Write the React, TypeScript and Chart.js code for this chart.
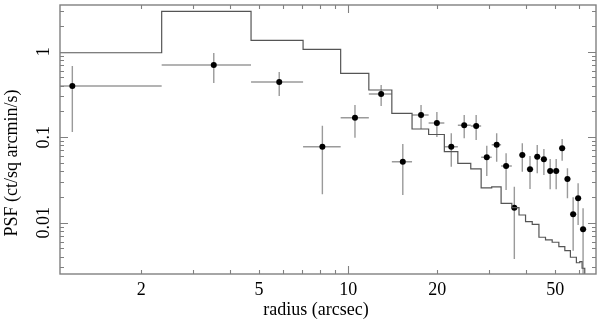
import React, { useEffect, useRef } from "react";
import { Chart, registerables } from "chart.js";

Chart.register(...registerables);

// Model PSF (step histogram): bin start radius (arcsec) and value
const modelEdges = [1.0, 2.344, 4.697, 7.04, 9.43, 11.74, 14.04, 16.43, 18.69, 21.12, 23.46, 25.94, 28.12, 30.53, 32.84, 35.7, 37.75, 39.72, 41.84, 44.08, 46.39, 48.86, 51.46, 53.91, 56.3, 58.98, 60.56, 61.65, 62.95, 70];
const modelValues = [0.973, 2.97, 1.36, 1.067, 0.559, 0.3565, 0.1904, 0.1247, 0.1075, 0.0677, 0.0495, 0.0425, 0.0255, 0.0262, 0.01686, 0.01497, 0.0123, 0.01027, 0.00958, 0.00675, 0.00628, 0.0059, 0.00524, 0.0047, 0.00394, 0.0034, 0.0035, 0.00293, 0.001, 0.001];

// Observed profile
const dataX = [1.17, 3.515, 5.848, 8.18, 10.54, 12.92, 15.29, 17.62, 19.93, 22.29, 24.65, 27.05, 29.38, 31.73, 34.14, 36.4, 38.73, 41.12, 43.5, 45.81, 48.1, 50.4, 52.8, 55.02, 57.51, 59.78, 62.13];
const dataY = [0.397, 0.699, 0.442, 0.0774, 0.169, 0.32, 0.0517, 0.1818, 0.1466, 0.0774, 0.1378, 0.1352, 0.0582, 0.0817, 0.046, 0.01497, 0.0619, 0.0421, 0.0591, 0.0551, 0.0402, 0.0402, 0.0742, 0.0324, 0.01254, 0.0193, 0.00837];
const dataYHigh = [0.68, 0.966, 0.579, 0.1363, 0.238, 0.408, 0.0833, 0.238, 0.197, 0.111, 0.1818, 0.1818, 0.0796, 0.111, 0.0648, 0.02637, 0.0849, 0.0603, 0.0811, 0.0728, 0.0556, 0.0556, 0.0953, 0.0433, 0.0198, 0.0289, 0.01474];
const dataYLow = [0.115, 0.43, 0.303, 0.0215, 0.0987, 0.2317, 0.0211, 0.1247, 0.1005, 0.0452, 0.0971, 0.0928, 0.0352, 0.0517, 0.0241, 0.00376, 0.0395, 0.0248, 0.0378, 0.0361, 0.0246, 0.0246, 0.0531, 0.0193, 0.0047, 0.0094, 0.001];
const dataXLow = [1.0, 2.344, 4.697, 7.04, 9.43, 11.74, 14.04, 16.43, 18.69, 21.12, 23.46, 25.94, 28.12, 30.53, 32.84, 35.5, 37.8, 40.1, 42.4, 44.7, 46.9, 49.2, 51.5, 53.7, 56.1, 58.3, 60.6];
const dataXHigh = [2.344, 4.697, 7.04, 9.43, 11.74, 14.04, 16.43, 18.69, 21.12, 23.46, 25.94, 28.12, 30.53, 32.84, 35.7, 37.3, 39.7, 42.2, 44.6, 47.0, 49.3, 51.7, 54.1, 56.4, 59.0, 61.3, 63.7];

const xTickLabels = ["2", "5", "10", "20", "50"];
const yTickLabels = ["0.01", "0.1", "1"];
const xTitle = "radius (arcsec)";
const yTitle = "PSF (ct/sq arcmin/s)";

const X_MIN = 1.063;
const X_MAX = 68.7;
const Y_MIN = 0.00251;
const Y_MAX = 3.52;

const FONT = "18px 'Liberation Serif', 'DejaVu Serif', serif";

const decorPlugin = {
  id: "decor",
  beforeDatasetsDraw(chart: any) {
    const { ctx, chartArea, scales } = chart;
    const xs = scales.x;
    const ys = scales.y;
    ctx.save();
    ctx.beginPath();
    ctx.rect(chartArea.left, chartArea.top, chartArea.right - chartArea.left, chartArea.bottom - chartArea.top);
    ctx.clip();
    ctx.strokeStyle = "#9a9a9a";
    ctx.lineWidth = 1.4;
    for (let i = 0; i < dataX.length; i++) {
      const px = xs.getPixelForValue(dataX[i]);
      const py = ys.getPixelForValue(dataY[i]);
      ctx.beginPath();
      ctx.moveTo(xs.getPixelForValue(dataXLow[i]), py);
      ctx.lineTo(xs.getPixelForValue(dataXHigh[i]), py);
      ctx.moveTo(px, ys.getPixelForValue(dataYHigh[i]));
      ctx.lineTo(px, ys.getPixelForValue(dataYLow[i]));
      ctx.stroke();
    }
    ctx.restore();
  },
  afterDraw(chart: any) {
    const { ctx, chartArea, scales } = chart;
    const xs = scales.x;
    const ys = scales.y;
    const { left, right, top, bottom } = chartArea;
    ctx.save();
    ctx.strokeStyle = "#808080";
    ctx.lineWidth = 1.4;
    ctx.strokeRect(left, top, right - left, bottom - top);

    // x ticks
    const xMinor = [2, 3, 4, 5, 6, 7, 8, 9, 20, 30, 40, 50, 60];
    const xMajor = [10];
    ctx.lineWidth = 1.1;
    ctx.beginPath();
    for (const v of xMinor.concat(xMajor)) {
      const len = xMajor.includes(v) ? 8 : 4;
      const p = Math.round(xs.getPixelForValue(v)) + 0.5;
      ctx.moveTo(p, bottom);
      ctx.lineTo(p, bottom - len);
      ctx.moveTo(p, top);
      ctx.lineTo(p, top + len);
    }
    // y ticks
    const yMajor = [0.01, 0.1, 1];
    const yMinor = [0.003, 0.004, 0.005, 0.006, 0.007, 0.008, 0.009, 0.02, 0.03, 0.04, 0.05, 0.06, 0.07, 0.08, 0.09, 0.2, 0.3, 0.4, 0.5, 0.6, 0.7, 0.8, 0.9, 2, 3];
    for (const v of yMinor.concat(yMajor)) {
      const len = yMajor.includes(v) ? 8 : 4;
      const p = Math.round(ys.getPixelForValue(v)) + 0.5;
      ctx.moveTo(left, p);
      ctx.lineTo(left + len, p);
      ctx.moveTo(right, p);
      ctx.lineTo(right - len, p);
    }
    ctx.stroke();

    // labels
    ctx.fillStyle = "#000";
    ctx.font = FONT;
    ctx.textAlign = "center";
    ctx.textBaseline = "alphabetic";
    for (const t of xTickLabels) {
      ctx.fillText(t, xs.getPixelForValue(parseFloat(t)), 295);
    }
    ctx.fillText(xTitle, 316, 315);
    for (const t of yTickLabels) {
      ctx.save();
      ctx.translate(49, ys.getPixelForValue(parseFloat(t)));
      ctx.rotate(-Math.PI / 2);
      ctx.fillText(t, 0, 0);
      ctx.restore();
    }
    ctx.save();
    ctx.translate(16.5, 163);
    ctx.rotate(-Math.PI / 2);
    ctx.fillText(yTitle, 0, 0);
    ctx.restore();
    ctx.restore();
  },
};

export default function App() {
  const canvasRef = useRef<HTMLCanvasElement | null>(null);

  useEffect(() => {
    if (!canvasRef.current) return;
    const chart = new Chart(canvasRef.current, {
      type: "scatter",
      data: {
        datasets: [
          {
            type: "line",
            data: modelEdges.map((x, i) => ({ x, y: modelValues[i] })),
            stepped: "before",
            borderColor: "#555555",
            borderWidth: 1.2,
            pointRadius: 0,
            fill: false,
          } as any,
          {
            type: "scatter",
            data: dataX.map((x, i) => ({ x, y: dataY[i] })),
            backgroundColor: "#000",
            borderColor: "#000",
            pointRadius: 3,
            borderWidth: 0,
          },
        ],
      },
      options: {
        animation: false,
        responsive: true,
        maintainAspectRatio: false,
        layout: { padding: { top: 5, right: 2, left: 0, bottom: 0 } },
        plugins: { legend: { display: false }, tooltip: { enabled: false } },
        scales: {
          x: {
            type: "logarithmic",
            min: X_MIN,
            max: X_MAX,
            grid: { display: false },
            border: { display: false },
            ticks: { display: false },
            afterFit: (s: any) => {
              s.height = 48;
            },
          },
          y: {
            type: "logarithmic",
            min: Y_MIN,
            max: Y_MAX,
            grid: { display: false },
            border: { display: false },
            ticks: { display: false },
            afterFit: (s: any) => {
              s.width = 60;
            },
          },
        },
      },
      plugins: [decorPlugin],
    });
    return () => chart.destroy();
  }, []);

  return (
    <div style={{ position: "fixed", left: 0, top: 0, width: 600, height: 322, background: "#fff" }}>
      <canvas ref={canvasRef} />
    </div>
  );
}
